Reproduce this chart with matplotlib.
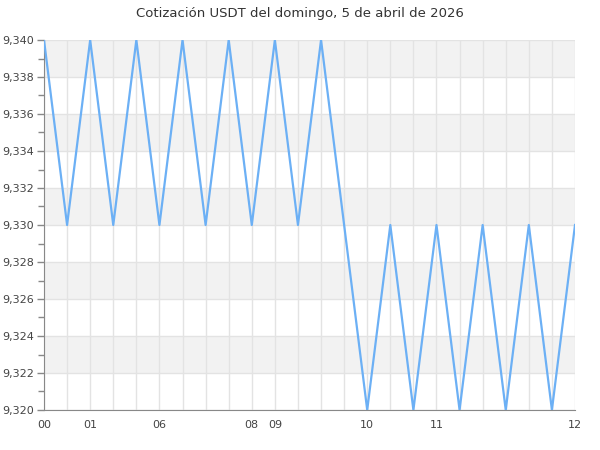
import matplotlib
matplotlib.use('Agg')
import matplotlib.pyplot as plt
from matplotlib.ticker import MultipleLocator, FuncFormatter

# hour of each quote (one point per sample)
hours = ['00', '00', '01', '01', '01', '06', '06', '06', '06', '08', '09', '09',
         '09', '09', '10', '10', '10', '11', '11', '11', '11', '11', '11', '12']
prices = [9.340, 9.330, 9.340, 9.330, 9.340, 9.330, 9.340, 9.330, 9.340, 9.330, 9.340, 9.330,
          9.340, 9.330, 9.320, 9.330, 9.320, 9.330, 9.320, 9.330, 9.320, 9.330, 9.320, 9.330]
title = 'Cotización USDT del domingo, 5 de abril de 2026'

fig = plt.figure(figsize=(6, 4.5), dpi=100)
ax = fig.add_axes([44 / 600, 40 / 450, 531 / 600, 370 / 450])

x = list(range(len(prices)))
ymin, ymax = 9.320, 9.340

# alternating bands
v = ymin
band = 0
while v < ymax - 1e-9:
    if band % 2 == 1:
        ax.axhspan(v, v + 0.002, color='#f2f2f2', zorder=0, lw=0)
    v += 0.002
    band += 1

for xi in x:
    ax.axvline(xi, color='#e3e3e3', lw=1, zorder=1)
ax.yaxis.set_major_locator(MultipleLocator(0.002))
ax.yaxis.set_minor_locator(MultipleLocator(0.001))
ax.grid(axis='y', which='major', color='#e3e3e3', lw=1, zorder=1)
ax.set_axisbelow(True)

ax.plot(x, prices, color='#6cb0f5', lw=1.6, zorder=3)

ax.set_xlim(0, len(prices) - 1)
ax.set_ylim(ymin, ymax)

# label the first point of each hour
tick_pos = [i for i in x if i == 0 or hours[i] != hours[i - 1]]
ax.set_xticks(tick_pos)
ax.set_xticklabels([hours[i] for i in tick_pos])
ax.yaxis.set_major_formatter(FuncFormatter(lambda val, p: f'{val:,.3f}'.replace('.', ',')))

for s in ['top', 'right']:
    ax.spines[s].set_visible(False)
for s in ['left', 'bottom']:
    ax.spines[s].set_color('#888888')
ax.tick_params(axis='x', length=0, pad=7, labelsize=8, colors='#444444')
ax.tick_params(axis='y', which='major', length=5, width=1, color='#888888', labelsize=8, labelcolor='#444444', pad=2)
ax.tick_params(axis='y', which='minor', length=4, width=1, color='#888888')

fig.suptitle(title, y=0.985, fontsize=9.5, color='#333333')

plt.savefig('out.png', dpi=100)
